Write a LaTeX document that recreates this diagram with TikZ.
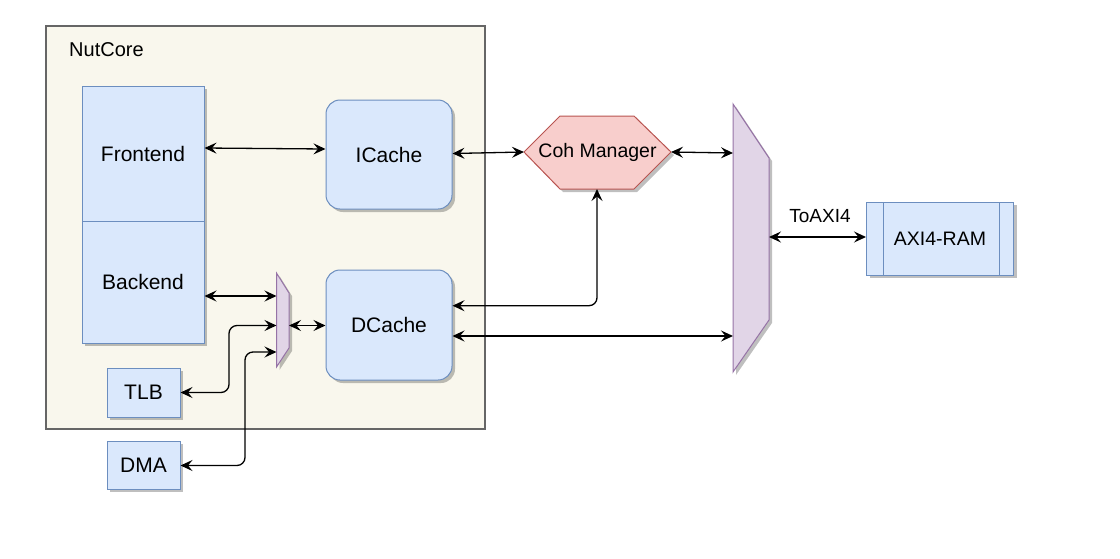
\documentclass[tikz,border=0pt]{standalone}
\usepackage{fontspec}
\setmainfont{Liberation Sans}
\usetikzlibrary{arrows.meta,shadows}
\definecolor{bluef}{HTML}{DAE8FC}
\definecolor{bluel}{HTML}{6C8EBF}
\definecolor{redf}{HTML}{F8CECC}
\definecolor{redl}{HTML}{B85450}
\definecolor{purf}{HTML}{E1D5E7}
\definecolor{purl}{HTML}{9673A6}
\definecolor{contf}{HTML}{F9F7ED}
\definecolor{contl}{HTML}{666666}
\begin{document}
\begin{tikzpicture}[x=1pt,y=-1pt,
  shad/.style={drop shadow={shadow xshift=3pt,shadow yshift=-3pt,fill=black,opacity=0.25}},
  box/.style={draw=bluel,fill=bluef,line width=1pt,shad,inner sep=0pt,font=\fontsize{21}{25}\selectfont},
  link/.style={line width=1.3pt,{Stealth[length=12pt,width=11pt,inset=4.5pt]}-{Stealth[length=12pt,width=11pt,inset=4.5pt]},rounded corners=8pt},
  muxs/.style={draw=purl,fill=purf,line width=1pt,shad}
]
\useasboundingbox (0,0) rectangle (1120,558);
% container
\node[draw=contl,fill=contf,line width=1.2pt,minimum width=439pt,minimum height=403pt,inner sep=0pt] (nutcore) at (265.5,227.5) {};
\node[anchor=west,inner sep=0pt,font=\fontsize{20}{24}\selectfont] (nutlabel) at (69,50) {NutCore};
% boxes
\node[box,minimum width=122pt,minimum height=135pt] (frontend) at (143,153.5) {Frontend};
\node[box,minimum width=122pt,minimum height=122pt] (backend) at (143,282) {Backend};
\node[box,rounded corners=14pt,minimum width=126pt,minimum height=109pt] (icache) at (389,154.5) {ICache};
\node[box,rounded corners=14pt,minimum width=126pt,minimum height=110pt] (dcache) at (389,325) {DCache};
\node[box,minimum width=73pt,minimum height=49pt] (tlb) at (143.5,392.5) {TLB};
\node[box,minimum width=73pt,minimum height=48pt] (dma) at (143.5,465) {DMA};
\node[box,minimum width=147pt,minimum height=73pt,font=\fontsize{19.5}{23}\selectfont] (axi) at (940,238.5) {AXI4-RAM};
\draw[draw=bluel,line width=1pt] (883,202) -- (883,275) (999,202) -- (999,275);
% hexagon
\draw[draw=redl,fill=redf,line width=1pt,shad] (524,152) -- (560,116) -- (634,116) -- (671,152) -- (634,189) -- (560,189) -- cycle;
\node[inner sep=0pt,font=\fontsize{19.5}{23}\selectfont] (coh) at (597.5,152) {Coh Manager};
\coordinate (cohW) at (524,152);
\coordinate (cohE) at (671,152);
\coordinate (cohS) at (597,189);
% muxes
\draw[muxs] (276.5,273) -- (289,293) -- (289,348) -- (276.5,367) -- cycle;
\draw[muxs] (733,104) -- (769,158) -- (769,320) -- (733,372) -- cycle;
\coordinate (sm1) at (276.5,296);
\coordinate (sm2) at (289,325.5);
\coordinate (sm3) at (276.5,325.5);
\coordinate (sm4) at (276.5,352);
\coordinate (bm1) at (733,153);
\coordinate (bm2) at (733,336);
\coordinate (bm3) at (769,237);
% connectors
\draw[link] ([yshift=5.5pt]frontend.east) -- ([yshift=5.5pt]icache.west);
\draw[link] ([yshift=1pt]icache.east) -- (cohW);
\draw[link] (cohE) -- (bm1);
\draw[link] ([yshift=19.3pt]dcache.east) -- (597,305.7) -- (cohS);
\draw[link] ([yshift=-11pt]dcache.east) -- (bm2);
\draw[link] (bm3) -- ([yshift=1.5pt]axi.west);
\node[inner sep=0pt,font=\fontsize{19}{23}\selectfont] (toaxi) at (820,216.5) {ToAXI4};
\draw[link] ([yshift=-14pt]backend.east) -- (sm1);
\draw[link] (sm2) -- ([yshift=-0.5pt]dcache.west);
\draw[link] (sm3) -- (229,325.5) -- (229,392.5) -- (tlb.east);
\draw[link] (sm4) -- (245,352) -- (245,465.5) -- ([yshift=-0.5pt]dma.east);
\end{tikzpicture}
\end{document}
